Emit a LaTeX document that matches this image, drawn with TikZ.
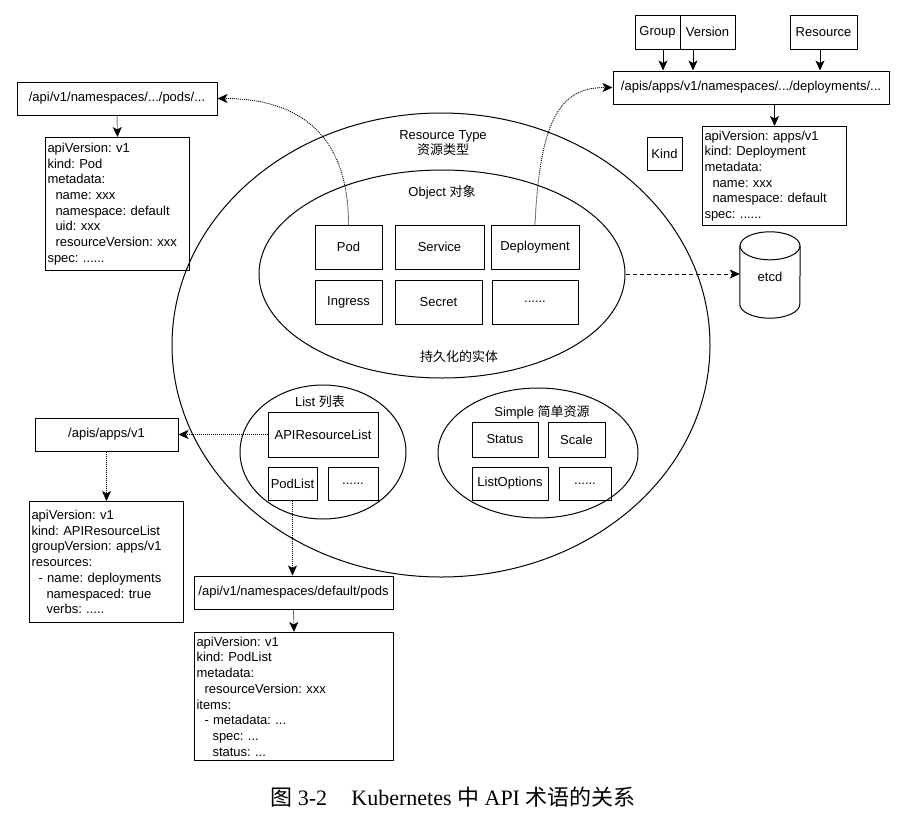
\documentclass[tikz,border=0pt]{standalone}
\usepackage{fontspec}
\setmainfont{Liberation Sans}
\newfontfamily\cjk{Noto Sans CJK SC}
\newfontfamily\lserif{Liberation Serif}
\usetikzlibrary{arrows.meta,shapes.geometric}
\frenchspacing
\newcommand{\dfont}{\fontsize{13}{15.7}\selectfont\frenchspacing}
\newcommand{\indA}{\hspace*{8pt}}
\newcommand{\indB}{\hspace*{15pt}}
\newcommand{\indC}{\hspace*{16pt}}
\newcommand{\indD}{\hspace*{7pt}}
\tikzset{
  box/.style={draw, line width=1pt, inner sep=0pt, font=\dfont},
  yml/.style={draw, line width=1pt, font=\dfont, align=left, inner xsep=2pt, inner ysep=0pt, anchor=north west},
  ell/.style={draw, ellipse, line width=1pt, inner sep=0pt},
  lbl/.style={font=\dfont, inner sep=0pt, align=center},
  arr/.style={line width=1pt, -{Stealth[length=10pt,width=9pt,inset=2.5pt]}},
  dotarr/.style={arr, line width=0.9pt, dash pattern=on 1pt off 1pt},
  dasharr/.style={arr, dash pattern=on 4pt off 3pt}
}
\begin{document}
\begin{tikzpicture}[x=1pt,y=-1pt]
\useasboundingbox (0,0) rectangle (906,820);

% ---- central ellipses ----
\node[ell, minimum width=538pt, minimum height=464pt] (rt) at (441,345) {};
\node[lbl] (rtl) at (443,143) {Resource Type\\{\cjk 资源类型}};
\node[ell, minimum width=366pt, minimum height=208pt] (obj) at (442,274) {};
\node[lbl] (objl) at (442,192) {Object {\cjk 对象}};
\node[lbl] (persist) at (459,357) {\cjk 持久化的实体};
\node[box, minimum width=67pt, minimum height=44pt] (pod) at (348.5,247) {Pod};
\node[box, minimum width=89pt, minimum height=44pt] (svc) at (439.5,247) {Service};
\node[box, minimum width=88pt, minimum height=44pt] (dep) at (535,247) {Deployment};
\node[box, minimum width=67pt, minimum height=44pt] (ing) at (348.5,302) {Ingress};
\node[box, minimum width=87pt, minimum height=44pt] (sec) at (438.5,302) {Secret};
\node[box, minimum width=86pt, minimum height=44pt] (od) at (535,302) {......};

\node[ell, minimum width=166pt, minimum height=134pt] (lst) at (323,452) {};
\node[lbl] (lstl) at (320,402) {List {\cjk 列表}};
\node[box, minimum width=110pt, minimum height=45pt] (arl) at (323,434.5) {APIResourceList};
\node[box, minimum width=49pt, minimum height=33pt] (pl) at (292.5,483.5) {PodList};
\node[box, minimum width=50pt, minimum height=33pt] (ld) at (353,483.5) {......};

\node[ell, minimum width=200pt, minimum height=130pt] (smp) at (538,453) {};
\node[lbl] (smpl) at (542,412) {Simple {\cjk 简单资源}};
\node[box, minimum width=66pt, minimum height=35pt] (st) at (505,439.5) {Status};
\node[box, minimum width=57pt, minimum height=35pt] (sc) at (576.5,439.5) {Scale};
\node[box, minimum width=76pt, minimum height=33pt] (lo) at (510,483.5) {ListOptions};
\node[box, minimum width=52pt, minimum height=33pt] (sd) at (585,483.5) {......};

% ---- top left ----
\node[box, minimum width=200pt, minimum height=33pt] (p1) at (117,98.5) {/api/v1/namespaces/.../pods/...};
\node[yml, text width=140pt, minimum height=133pt] (pdet) at (45,137) {apiVersion: v1\\kind: Pod\\metadata:\\\indA name: xxx\\\indA namespace: default\\\indA uid: xxx\\\indA resourceVersion: xxx\\spec: ......};

% ---- top right ----
\node[box, minimum width=45pt, minimum height=34pt] (grp) at (657.5,32) {Group};
\node[box, minimum width=55pt, minimum height=34pt] (ver) at (707.5,32) {Version};
\node[box, minimum width=67pt, minimum height=34pt] (res) at (823.5,32) {Resource};
\node[box, minimum width=276pt, minimum height=33pt] (p2) at (751,87.5) {/apis/apps/v1/namespaces/.../deployments/...};
\node[yml, text width=140pt, minimum height=99pt] (ddet) at (702,126) {apiVersion: apps/v1\\kind: Deployment\\metadata:\\\indA name: xxx\\\indA namespace: default\\spec: ......};
\node[box, minimum width=35pt, minimum height=33pt] (kind) at (664.5,153.5) {Kind};

% ---- etcd ----
\node[minimum width=60pt, minimum height=86pt, inner sep=0pt, font=\dfont] (etcd) at (770,275) {\raisebox{-14pt}{etcd}};
\draw[line width=1pt] ([yshift=-14pt]etcd.north west) -- ([yshift=14pt]etcd.south west)
  arc[start angle=180, end angle=360, x radius=30pt, y radius=14pt] -- ([yshift=-14pt]etcd.north east);
\draw[line width=1pt] ([yshift=-14pt]etcd.north) ellipse [x radius=30pt, y radius=14pt];

% ---- bottom ----
\node[box, minimum width=143pt, minimum height=33pt] (p3) at (106.5,434.5) {/apis/apps/v1};
\node[yml, text width=150pt, minimum height=121pt] (adet) at (29,501) {apiVersion: v1\\kind: APIResourceList\\groupVersion: apps/v1\\resources:\\\indD - name: deployments\\\indB namespaced: true\\\indB verbs: .....};
\node[box, minimum width=199pt, minimum height=33pt] (p4) at (293.5,592.5) {/api/v1/namespaces/default/pods};
\node[yml, text width=195pt, minimum height=128pt] (pldet) at (194,632) {apiVersion: v1\\kind: PodList\\metadata:\\\indA resourceVersion: xxx\\items:\\\indA - metadata: ...\\\indC spec: ...\\\indC status: ...};

% ---- connectors ----
\draw[arr] ([xshift=5.5pt]grp.south) -- ([xshift=5.5pt]grp.south |- p2.north);
\draw[arr] ([xshift=-14.5pt]ver.south) -- ([xshift=-14.5pt]ver.south |- p2.north);
\draw[arr] ([xshift=-3.5pt]res.south) -- ([xshift=-3.5pt]res.south |- p2.north);
\draw[arr] (p2.south -| ddet.north) -- (ddet.north);
\draw[dotarr] (pod.north) .. controls +(0,-100) and +(70,0) .. (p1.east);
\draw[dotarr] (dep.north) .. controls +(5,-110) and +(-50,0) .. (p2.west);
\draw[dotarr] (p1.south) -- (pdet.north);
\draw[dotarr] (arl.west) -- (p3.east);
\draw[dotarr] (p3.south) -- (adet.north);
\draw[dotarr] (pl.south) -- (pl.south |- p4.north);
\draw[dotarr] (p4.south) -- (pldet.north);
\draw[dasharr] (obj.east) -- (obj.east -| etcd.west);

% ---- caption ----
\node[font=\lserif\fontsize{22}{26}\selectfont, inner sep=0pt] (cap) at (453,797) {{\cjk 图} 3-2\hspace{1.1em}Kubernetes {\cjk 中} API {\cjk 术语的关系}};
\end{tikzpicture}
\end{document}
